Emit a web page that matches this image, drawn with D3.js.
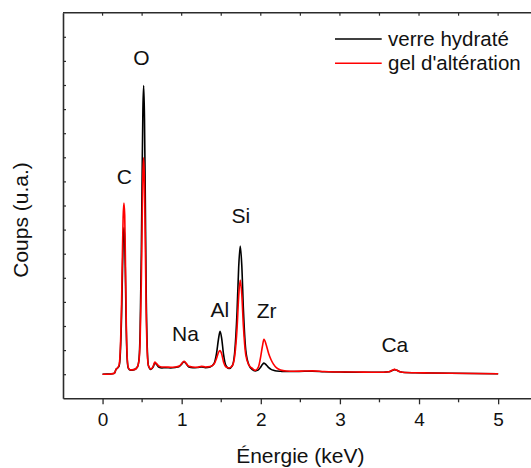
<!DOCTYPE html>
<html><head><meta charset="utf-8">
<script src="https://cdn.jsdelivr.net/npm/d3@7"></script>
<style>html,body{margin:0;padding:0;background:#fff;} svg{display:block;}</style>
</head><body>
<script>
const energy = [0,0.05,0.10,0.15,0.17,0.19,0.21,0.225,0.24,0.25,0.26,0.27,0.28,0.29,0.30,0.31,0.325,0.35,0.40,0.44,0.46,0.475,0.49,0.50,0.51,0.52,0.53,0.54,0.55,0.565,0.58,0.61,0.64,0.66,0.68,0.71,0.75,0.80,0.86,0.92,0.97,1.00,1.03,1.06,1.09,1.14,1.20,1.25,1.30,1.36,1.41,1.44,1.465,1.485,1.505,1.53,1.56,1.60,1.64,1.67,1.70,1.72,1.74,1.76,1.78,1.81,1.85,1.89,1.93,1.97,2.00,2.02,2.04,2.07,2.10,2.13,2.16,2.20,2.25,2.32,2.42,2.55,2.65,2.80,3.00,3.20,3.40,3.55,3.62,3.66,3.69,3.72,3.76,3.82,3.95,4.15,4.40,4.70,5.00];
const verreHydrate = [0,0.01,0.01,0.04,0.2,0.26,0.35,0.9,2.4,4.0,5.5,6.08,5.6,3.8,1.8,0.7,0.25,0.17,0.19,0.3,0.6,1.8,5.0,8.2,11.0,11.98,10.6,7.4,3.8,1.1,0.35,0.2,0.3,0.46,0.42,0.3,0.26,0.27,0.26,0.28,0.32,0.42,0.52,0.42,0.3,0.27,0.28,0.3,0.27,0.3,0.45,0.85,1.45,1.78,1.5,0.8,0.35,0.24,0.35,0.9,2.6,4.4,5.32,4.5,2.7,1.0,0.38,0.2,0.14,0.18,0.3,0.4,0.46,0.38,0.27,0.2,0.16,0.13,0.12,0.11,0.11,0.12,0.12,0.1,0.09,0.08,0.08,0.08,0.1,0.15,0.19,0.16,0.1,0.07,0.06,0.05,0.04,0.03,0.02];
const gelAlteration = [0,0,0.01,0.04,0.2,0.26,0.4,1.1,2.9,4.8,6.5,7.1,6.6,4.5,2.1,0.8,0.28,0.18,0.19,0.3,0.55,1.4,3.8,6.2,8.3,8.98,7.9,5.5,2.9,0.9,0.35,0.22,0.33,0.5,0.45,0.34,0.3,0.3,0.29,0.3,0.34,0.44,0.54,0.44,0.33,0.3,0.29,0.33,0.3,0.32,0.42,0.65,0.9,0.98,0.85,0.5,0.3,0.26,0.35,0.75,1.9,3.2,3.91,3.3,2.0,0.8,0.38,0.25,0.16,0.3,0.75,1.15,1.45,1.2,0.85,0.6,0.42,0.26,0.17,0.13,0.12,0.13,0.14,0.11,0.09,0.09,0.08,0.08,0.1,0.16,0.2,0.16,0.1,0.07,0.06,0.05,0.04,0.03,0.02];
const seriesNames = ["verre hydraté", "gel d'altération"];
const seriesColors = ["#000000", "#ff0000"];
const xTicks = [0,1,2,3,4,5];
const peakLabels = ["O","C","Si","Al","Na","Zr","Ca"];
const peakLabelE = [0.49,0.274,1.748,1.483,1.049,2.073,3.695];
const peakLabelY = [12.83,7.89,6.29,2.37,1.36,2.33,0.94];

const W = 531, H = 468;
const svg = d3.select("body").append("svg").attr("width", W).attr("height", H)
  .style("font-family", "'Liberation Sans', Arial, sans-serif");
const x = d3.scaleLinear().domain([-0.5, 5.5]).range([63, 537.7]);
const y = d3.scaleLinear().domain([-1, 15]).range([398.3, 12.7]);

const axisColor = "#2b2b2b";
const series = [verreHydrate, gelAlteration];
const line = d3.line().x((d,i)=>x(energy[i])).y(d=>y(d)).curve(d3.curveMonotoneX);
const plot = svg.append("g");
series.forEach((s,k)=>{
  plot.append("path").datum(s).attr("d", line).attr("fill","none")
    .attr("stroke", seriesColors[k]).attr("stroke-width", 1.6).attr("stroke-linejoin","round");
});

// bottom axis
const xAxis = d3.axisBottom(x).tickValues(xTicks).tickFormat(d3.format("d")).tickSize(6).tickSizeOuter(0);
const gx = svg.append("g").attr("transform", `translate(0,${y(-1)})`).call(xAxis);
gx.select(".domain").attr("stroke", axisColor).attr("stroke-width", 1.6);
gx.selectAll(".tick line").attr("stroke", axisColor).attr("stroke-width", 1.3);
gx.selectAll(".tick text").attr("font-size", 19).attr("fill", "#111").attr("dy", "1.0em");
const minorX = d3.range(-0.5, 5.51, 1).filter(v=>v> -0.5);
svg.append("g").selectAll("line").data(minorX).join("line")
  .attr("x1", d=>x(d)).attr("x2", d=>x(d)).attr("y1", y(-1)).attr("y2", y(-1)+4)
  .attr("stroke", axisColor).attr("stroke-width", 1.3);
// top axis
svg.append("line").attr("x1", x(-0.5)).attr("x2", x(5.5)).attr("y1", y(15)).attr("y2", y(15))
  .attr("stroke", axisColor).attr("stroke-width", 1.6);
const topT = d3.range(0, 5.51, 0.5);
svg.append("g").selectAll("line").data(topT).join("line")
  .attr("x1", d=>x(d)).attr("x2", d=>x(d)).attr("y1", y(15)).attr("y2", y(15)+3)
  .attr("stroke", axisColor).attr("stroke-width", 1.2);
// left axis
const yAxis = d3.axisLeft(y).tickValues(d3.range(0, 15, 1)).tickSize(-3).tickFormat("").tickSizeOuter(0);
const gy = svg.append("g").attr("transform", `translate(${x(-0.5)},0)`).call(yAxis);
gy.select(".domain").attr("stroke", axisColor).attr("stroke-width", 1.6);
gy.selectAll(".tick line").attr("stroke", axisColor).attr("stroke-width", 1.2);

// axis titles
svg.append("text").attr("x", (63+537.7)/2).attr("y", 463).attr("text-anchor","middle")
  .attr("font-size", 21).attr("fill","#111").text("Énergie (keV)");
svg.append("text").attr("transform","translate(28,220) rotate(-90)").attr("text-anchor","middle")
  .attr("font-size", 21).attr("fill","#111").text("Coups (u.a.)");

// peak labels
svg.append("g").selectAll("text").data(peakLabels).join("text")
  .attr("x", (d,i)=>x(peakLabelE[i])).attr("y", (d,i)=>y(peakLabelY[i]))
  .attr("text-anchor","middle").attr("font-size", 21).attr("fill","#111").text(d=>d);

// legend
const lg = svg.append("g");
seriesNames.forEach((n,k)=>{
  const yy = 39 + k*24.3;
  lg.append("line").attr("x1",335).attr("x2",381.7).attr("y1",yy).attr("y2",yy)
    .attr("stroke", seriesColors[k]).attr("stroke-width",1.5);
  lg.append("text").attr("x",388).attr("y",yy+7).attr("font-size",20.5).attr("fill","#111").text(n);
});
</script>
</body></html>
